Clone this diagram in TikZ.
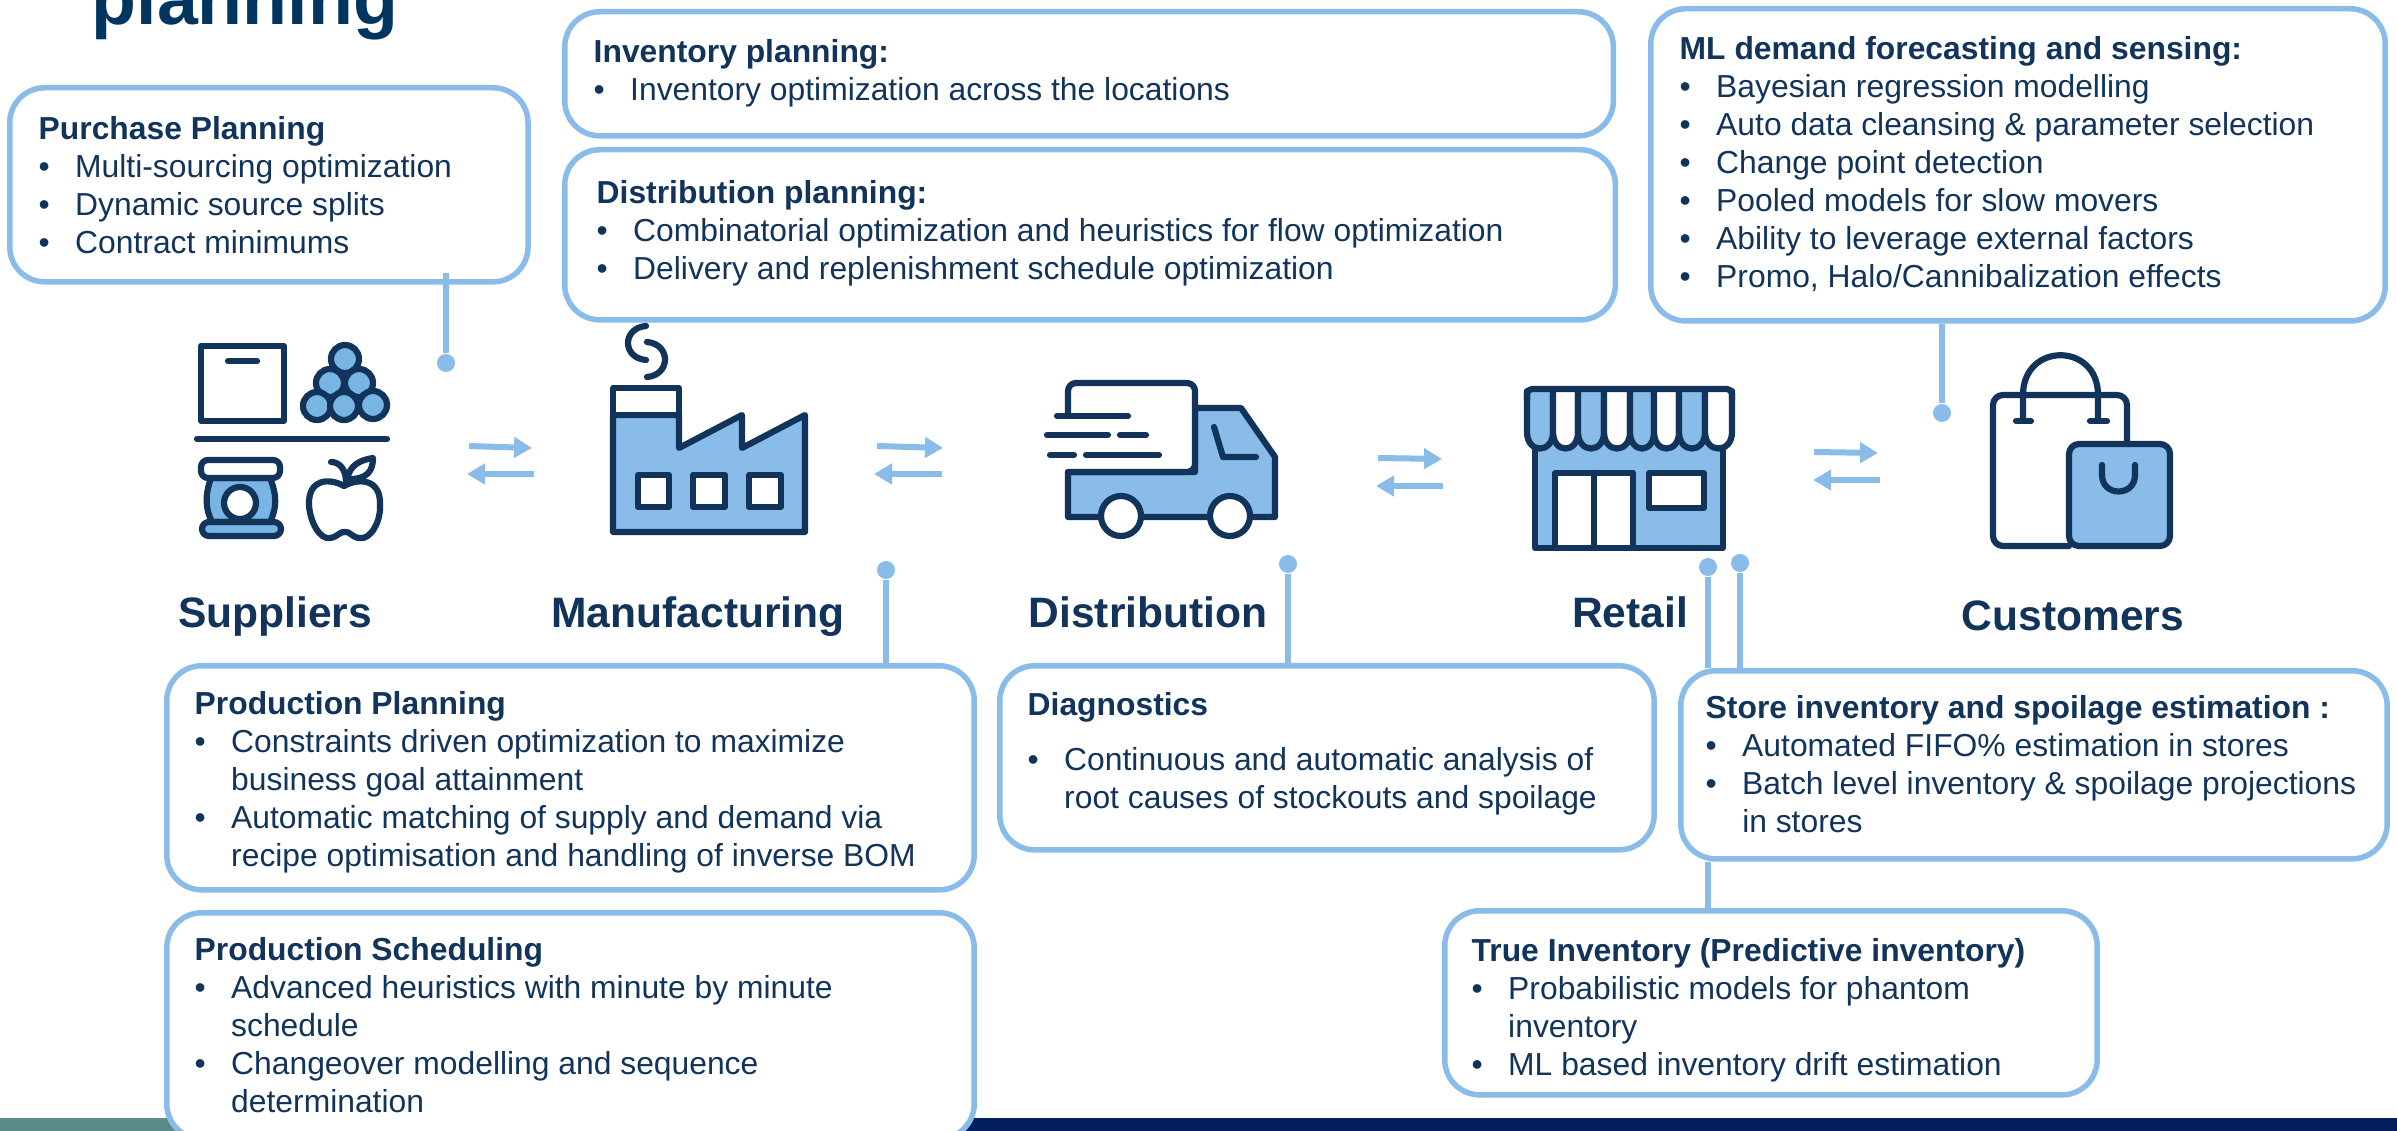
\documentclass[tikz,border=0pt]{standalone}
\usepackage{fontspec}
\setmainfont{Liberation Sans}
\usetikzlibrary{arrows.meta}
\definecolor{inkblue}{HTML}{12345A}
\definecolor{titleblue}{HTML}{00355F}
\definecolor{skyblue}{HTML}{89BCE9}
\definecolor{ballblue}{HTML}{78B5E4}
\definecolor{barteal}{HTML}{5B8A8A}
\definecolor{barnavy}{HTML}{001F5B}
\newcommand{\blt}{\makebox[0.365cm][l]{\textbullet}}
\newcommand{\cnt}{\hspace*{0.365cm}}
\tikzset{
  infobox/.style={draw=skyblue,fill=white,line width=0.55mm,rounded corners=0.35cm,anchor=north west,inner sep=0pt},
  infotext/.style={anchor=north west,inner sep=0pt,align=left,text=inkblue,font=\fontsize{9.05}{10.8}\selectfont},
  stagelabel/.style={anchor=base,text=inkblue,inner sep=0pt,font=\fontsize{12.1}{14}\selectfont\bfseries},
  iconline/.style={draw=inkblue,line width=0.62mm,line join=round,line cap=round},
  linkline/.style={draw=skyblue,line width=0.58mm},
  linkdot/.style={circle,fill=skyblue,inner sep=0pt,minimum size=0.18cm},
  flowarrow/.style={draw=skyblue,line width=0.6mm,-{Triangle[length=0.18cm,width=0.2cm]}}
}
\begin{document}
\begin{tikzpicture}[x=0.01cm,y=-0.01cm]
    \clip (0,0) rectangle (2397,1131);
    \fill[white] (0,0) rectangle (2397,1131);
    \fill[barteal] (0,1118) rectangle (600,1131);
    \fill[barnavy] (600,1118) rectangle (2397,1131);
    \node[anchor=base west,inner sep=0pt,text=titleblue,font=\fontsize{20.9}{24}\selectfont\bfseries] (title) at (91,25) {planning};
    % boxes
    \node[infobox,minimum width=5.18cm,minimum height=1.94cm] (purchasebox) at (7,85) {};
    \node[infobox,minimum width=10.48cm,minimum height=1.24cm] (inventorybox) at (562,9) {};
    \node[infobox,minimum width=10.5cm,minimum height=1.7cm] (distributionbox) at (562,147) {};
    \node[infobox,minimum width=7.34cm,minimum height=3.12cm] (forecastbox) at (1648,6) {};
    \node[infobox,minimum width=8.07cm,minimum height=2.24cm] (productionbox) at (164,663) {};
    \node[infobox,minimum width=8.07cm,minimum height=2.26cm] (schedulingbox) at (164,910) {};
    \node[infobox,minimum width=6.54cm,minimum height=1.84cm] (diagnosticsbox) at (997,663) {};
    \node[infobox,minimum width=7.06cm,minimum height=1.88cm] (storebox) at (1678,668) {};
    \node[infobox,minimum width=6.52cm,minimum height=1.84cm] (truebox) at (1442,908) {};
    % box texts
    \node[infotext] (purchasetext) at (38,116) {\textbf{Purchase Planning}\\\blt Multi-sourcing optimization\\\blt Dynamic source splits\\\blt Contract minimums};
    \node[infotext] (inventorytext) at (593,39) {\textbf{Inventory planning:}\\\blt Inventory optimization across the locations};
    \node[infotext] (distributiontext) at (596,180) {\textbf{Distribution planning:}\\\blt Combinatorial optimization and heuristics for flow optimization\\\blt Delivery and replenishment schedule optimization};
    \node[infotext] (forecasttext) at (1679,36) {\textbf{ML demand forecasting and sensing:}\\\blt Bayesian regression modelling\\\blt Auto data cleansing \& parameter selection\\\blt Change point detection\\\blt Pooled models for slow movers\\\blt Ability to leverage external factors\\\blt Promo, Halo/Cannibalization effects};
    \node[infotext] (productiontext) at (194,691) {\textbf{Production Planning}\\\blt Constraints driven optimization to maximize\\\cnt business goal attainment\\\blt Automatic matching of supply and demand via\\\cnt recipe optimisation and handling of inverse BOM};
    \node[infotext] (schedulingtext) at (194,937) {\textbf{Production Scheduling}\\\blt Advanced heuristics with minute by minute\\\cnt schedule\\\blt Changeover modelling and sequence\\\cnt determination};
    \node[infotext] (diagnosticstext) at (1027,692) {\textbf{Diagnostics}\\[4.8pt]\blt Continuous and automatic analysis of\\\cnt root causes of stockouts and spoilage};
    \node[infotext] (storetext) at (1705,695) {\textbf{Store inventory and spoilage estimation :}\\\blt Automated FIFO\% estimation in stores\\\blt Batch level inventory \& spoilage projections\\\cnt in stores};
    \node[infotext] (truetext) at (1471,938) {\textbf{True Inventory (Predictive inventory)}\\\blt Probabilistic models for phantom\\\cnt inventory\\\blt ML based inventory drift estimation};
    % stage labels
    \node[stagelabel] (suppliers) at (275,628) {Suppliers};
    \node[stagelabel] (manufacturing) at (698,628) {Manufacturing};
    \node[stagelabel] (distribution) at (1148,628) {Distribution};
    \node[stagelabel] (retail) at (1630,628) {Retail};
    \node[stagelabel] (customers) at (2073,630) {Customers};
    % connectors with dots
    \node[linkdot] (purchasedot) at (446,363) {};
    \coordinate (purchaseend) at (446,273);
    \draw[linkline] (purchaseend) -- (purchasedot);
    \node[linkdot] (productiondot) at (886,570) {};
    \draw[linkline] (productiondot) -- (productiondot |- productionbox.north);
    \node[linkdot] (diagnosticsdot) at (1288,564) {};
    \draw[linkline] (diagnosticsdot) -- (diagnosticsdot |- diagnosticsbox.north);
    \node[linkdot] (storedot) at (1740,563) {};
    \draw[linkline] (storedot) -- (storedot |- storebox.north);
    \node[linkdot] (truedot) at (1708,567) {};
    \draw[linkline] (truedot) -- (truedot |- storebox.north);
    \draw[linkline] (truedot |- storebox.south) -- (truedot |- truebox.north);
    \node[linkdot] (forecastdot) at (1942,413) {};
    \draw[linkline] (forecastdot) -- (forecastdot |- forecastbox.south);
    % flow arrows
    \coordinate (aa) at (469,446); \coordinate (ab) at (532,448);
    \coordinate (ac) at (534,474); \coordinate (ad) at (467,474);
    \coordinate (ba) at (877,446); \coordinate (bb) at (943,448);
    \coordinate (bc) at (942,474); \coordinate (bd) at (874,474);
    \coordinate (ca) at (1378,458); \coordinate (cb) at (1442,459);
    \coordinate (cc) at (1443,486); \coordinate (cd) at (1376,486);
    \coordinate (da) at (1814,452); \coordinate (db) at (1878,453);
    \coordinate (dc) at (1880,480); \coordinate (dd) at (1813,480);
    \draw[flowarrow] (aa) -- (ab);
    \draw[flowarrow] (ac) -- (ad);
    \draw[flowarrow] (ba) -- (bb);
    \draw[flowarrow] (bc) -- (bd);
    \draw[flowarrow] (ca) -- (cb);
    \draw[flowarrow] (cc) -- (cd);
    \draw[flowarrow] (da) -- (db);
    \draw[flowarrow] (dc) -- (dd);
    % suppliers icon
    \draw[iconline] (201,346) rectangle (284,421);
    \draw[iconline] (228,361) -- (257,361);
    \draw[iconline,fill=ballblue] (345,359) circle (14);
    \draw[iconline,fill=ballblue] (330,383) circle (14);
    \draw[iconline,fill=ballblue] (359,383) circle (14);
    \draw[iconline,fill=ballblue] (317,406) circle (14);
    \draw[iconline,fill=ballblue] (344,406) circle (14);
    \draw[iconline,fill=ballblue] (373,405) circle (14);
    \draw[iconline] (197,439) -- (387,439);
    \draw[iconline,fill=ballblue] (211,478) .. controls (205,495) and (205,508) .. (212,522) -- (270,522) .. controls (277,508) and (277,495) .. (270,478) -- cycle;
    \draw[iconline,fill=white,rounded corners=0.07cm] (201,460) rectangle (280,478);
    \draw[iconline,fill=ballblue,rounded corners=0.07cm] (202,522) rectangle (281,536);
    \draw[iconline,fill=white] (240,503) circle (16);
    \draw[iconline] (344,486) .. controls (330,478) and (308,478) .. (309,505) .. controls (310,522) and (320,540) .. (330,538) .. controls (338,537) and (340,531) .. (345,532) .. controls (350,531) and (352,538) .. (360,538) .. controls (370,540) and (381,522) .. (380,505) .. controls (381,478) and (358,478) .. (344,486);
    \draw[iconline] (331,462) .. controls (340,462) and (346,470) .. (346,482);
    \draw[iconline] (347,479) .. controls (350,465) and (360,460) .. (373,458) .. controls (373,470) and (368,480) .. (347,479);
    % factory icon
    \draw[iconline,fill=skyblue] (613,415) -- (679,415) -- (679,448) -- (742,415) -- (742,448) -- (805,415) -- (805,532) -- (613,532) -- cycle;
    \draw[iconline,fill=white] (613,388) rectangle (679,415);
    \draw[iconline,fill=white] (638,475) rectangle (669,507);
    \draw[iconline,fill=white] (693,475) rectangle (725,507);
    \draw[iconline,fill=white] (749,475) rectangle (781,507);
    \draw[iconline] (646,326) .. controls (622,328) and (622,358) .. (646,360);
    \draw[iconline] (647,342) .. controls (671,344) and (671,375) .. (647,377);
    % truck icon
    \draw[iconline,fill=skyblue] (1195,408) -- (1241,408) -- (1275,457) -- (1275,517) -- (1068,517) -- (1068,472) -- (1195,472) -- cycle;
    \draw[iconline,fill=white,rounded corners=0.08cm] (1068,416) -- (1068,383) -- (1195,383) -- (1195,472) -- (1068,472);
    \draw[iconline] (1214,427) -- (1223,457) -- (1256,457);
    \draw[iconline,fill=white] (1121,516) circle (20);
    \draw[iconline,fill=white] (1230,516) circle (20);
    \draw[iconline] (1057,416) -- (1128,416);
    \draw[iconline] (1047,435) -- (1108,435);
    \draw[iconline] (1120,435) -- (1146,435);
    \draw[iconline] (1050,455) -- (1074,455);
    \draw[iconline] (1086,455) -- (1159,455);
    % store icon
    \draw[iconline,fill=skyblue] (1535,440) rectangle (1723,548);
    \draw[iconline,fill=white] (1555,473) rectangle (1633,548);
    \draw[iconline] (1594,473) -- (1594,548);
    \draw[iconline,fill=white] (1649,473) rectangle (1704,508);
    \draw[iconline,fill=skyblue] (1527,391) -- (1527,432) .. controls (1527,454) and (1553,454) .. (1553,432) -- (1553,391);
    \draw[iconline,fill=white] (1553,391) -- (1553,432) .. controls (1553,454) and (1578,454) .. (1578,432) -- (1578,391);
    \draw[iconline,fill=skyblue] (1578,391) -- (1578,432) .. controls (1578,454) and (1604,454) .. (1604,432) -- (1604,391);
    \draw[iconline,fill=white] (1604,391) -- (1604,432) .. controls (1604,454) and (1630,454) .. (1630,432) -- (1630,391);
    \draw[iconline,fill=skyblue] (1630,391) -- (1630,432) .. controls (1630,454) and (1654,454) .. (1654,432) -- (1654,391);
    \draw[iconline,fill=white] (1654,391) -- (1654,432) .. controls (1654,454) and (1679,454) .. (1679,432) -- (1679,391);
    \draw[iconline,fill=skyblue] (1679,391) -- (1679,432) .. controls (1679,454) and (1705,454) .. (1705,432) -- (1705,391);
    \draw[iconline,fill=white] (1705,391) -- (1705,432) .. controls (1705,454) and (1732,454) .. (1732,432) -- (1732,391);
    \draw[iconline,rounded corners=0.05cm] (1527,400) -- (1527,389) -- (1732,389) -- (1732,400);
    % bag icon
    \draw[iconline,rounded corners=0.1cm] (2069,546) -- (1993,546) -- (1993,395) -- (2127,395) -- (2127,444);
    \draw[iconline] (2023,421) -- (2023,395) .. controls (2023,342) and (2098,342) .. (2098,395) -- (2098,421);
    \draw[iconline] (2016,421) -- (2031,421);
    \draw[iconline] (2090,421) -- (2107,421);
    \draw[iconline,fill=skyblue,rounded corners=0.1cm] (2069,444) rectangle (2170,546);
    \draw[iconline] (2102,465) -- (2102,475) .. controls (2102,497) and (2135,497) .. (2135,475) -- (2135,465);
\end{tikzpicture}
\end{document}
